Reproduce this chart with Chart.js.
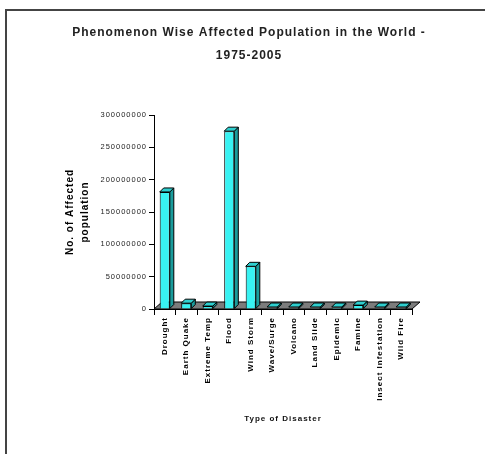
<!DOCTYPE html>
<html>
<head>
<meta charset="utf-8">
<script src="https://cdn.jsdelivr.net/npm/chart.js@4.4.1/dist/chart.umd.min.js"></script>
<style>
    html, body { margin: 0; padding: 0; background: #fff; }
    #wrap { position: relative; width: 485px; height: 454px; }
    #frame { position: absolute; left: 5px; top: 9px; right: 0; bottom: 0; border-left: 2px solid #444; border-top: 2px solid #444; }
    canvas { position: absolute; left: 0; top: 0; }
</style>
</head>
<body>
<div id="wrap">
    <div id="frame"></div>
    <canvas id="chart" width="485" height="454"></canvas>
</div>
<script>
// Data
const categories = ['Drought', 'Earth Quake', 'Extreme Temp', 'Flood', 'Wind Storm', 'Wave/Surge',
    'Volcano', 'Land Slide', 'Epidemic', 'Famine', 'Insect Infestation', 'Wild Fire'];
const affected = [181000000, 9000000, 4500000, 275000000, 66000000, 300000,
    300000, 300000, 2000000, 6000000, 300000, 300000];
const yTicks = [0, 50000000, 100000000, 150000000, 200000000, 250000000, 300000000];

const titleLines = ['Phenomenon Wise Affected Population in the World -', '1975-2005'];
const yTitle = ['No. of Affected', 'population'];
const xTitle = 'Type of Disaster';

const FONT = "'Liberation Sans', Arial, sans-serif";
const SPACING = '1px';
const DEPTH_FLOOR = { dx: 8, dy: -7 };
const DEPTH_BAR = { dx: 4, dy: -4 };

// letter spacing helper (canvas state resets on resize)
const spacing = {
    id: 'spacing',
    beforeUpdate(chart) { chart.ctx.letterSpacing = SPACING; },
    beforeDraw(chart) { chart.ctx.letterSpacing = SPACING; }
};

// chart title, centred over the whole frame rather than the plot
const chartTitle = {
    id: 'chartTitle',
    afterDraw(chart) {
        const { ctx } = chart;
        ctx.save();
        ctx.letterSpacing = SPACING;
        ctx.font = 'bold 12px ' + FONT;
        ctx.fillStyle = '#222';
        ctx.textAlign = 'center';
        ctx.textBaseline = 'middle';
        titleLines.forEach((line, i) => ctx.fillText(line, 249, 33 + i * 23));
        ctx.restore();
    }
};

// grey 3D floor under the bars
const floor = {
    id: 'floor',
    beforeDatasetsDraw(chart) {
        const { ctx, chartArea } = chart;
        const x0 = chartArea.left, x1 = chartArea.right, y = chartArea.bottom;
        ctx.save();
        ctx.beginPath();
        ctx.moveTo(x0, y);
        ctx.lineTo(x1, y);
        ctx.lineTo(x1 + DEPTH_FLOOR.dx, y + DEPTH_FLOOR.dy);
        ctx.lineTo(x0 + DEPTH_FLOOR.dx, y + DEPTH_FLOOR.dy);
        ctx.closePath();
        ctx.fillStyle = '#7c7c7c';
        ctx.fill();
        ctx.strokeStyle = '#000';
        ctx.lineWidth = 1;
        ctx.stroke();
        ctx.restore();
    }
};

// top + side faces for each bar
const bar3d = {
    id: 'bar3d',
    afterDatasetsDraw(chart) {
        const { ctx } = chart;
        const meta = chart.getDatasetMeta(0);
        const { dx, dy } = DEPTH_BAR;
        ctx.save();
        ctx.lineWidth = 1;
        ctx.strokeStyle = '#000';
        meta.data.forEach(bar => {
            const p = bar.getProps(['x', 'y', 'base', 'width'], true);
            const l = p.x - p.width / 2, r = p.x + p.width / 2;
            const t = Math.min(p.y, p.base - 1.5), b = p.base;
            // side
            ctx.beginPath();
            ctx.moveTo(r, t);
            ctx.lineTo(r + dx, t + dy);
            ctx.lineTo(r + dx, b + dy);
            ctx.lineTo(r, b);
            ctx.closePath();
            ctx.fillStyle = '#1a9c9c';
            ctx.fill();
            ctx.stroke();
            // top
            ctx.beginPath();
            ctx.moveTo(l, t);
            ctx.lineTo(l + dx, t + dy);
            ctx.lineTo(r + dx, t + dy);
            ctx.lineTo(r, t);
            ctx.closePath();
            ctx.fillStyle = '#2fcfcf';
            ctx.fill();
            ctx.stroke();
        });
        ctx.restore();
    }
};

const ctx = document.getElementById('chart').getContext('2d');
new Chart(ctx, {
    type: 'bar',
    data: {
        labels: categories,
        datasets: [{
            data: affected,
            backgroundColor: '#38f2f2',
            borderColor: '#000',
            borderWidth: 1,
            barPercentage: 0.47,
            categoryPercentage: 1
        }]
    },
    options: {
        responsive: false,
        animation: false,
        devicePixelRatio: 1,
        layout: { padding: { left: 0, right: 73, top: 115, bottom: 30 } },
        plugins: {
            legend: { display: false },
            tooltip: { enabled: false },
            title: { display: false }
        },
        scales: {
            x: {
                offset: true,
                afterFit: scale => { scale.height = 115; },
                grid: { offset: true, drawOnChartArea: false, drawTicks: true, tickLength: 6, color: '#000' },
                border: { display: true, color: '#000', width: 1 },
                ticks: {
                    minRotation: 90, maxRotation: 90, autoSkip: false, padding: 2,
                    color: '#000',
                    font: { family: FONT, size: 8, weight: 'bold' }
                },
                title: {
                    display: true, text: xTitle, color: '#111',
                    font: { family: FONT, size: 8, weight: 'bold' },
                    padding: { top: 4, bottom: 0 }
                }
            },
            y: {
                min: 0,
                max: 300000000,
                afterBuildTicks: scale => { scale.ticks = yTicks.map(v => ({ value: v })); },
                afterFit: scale => { scale.width = 154; },
                grid: { drawOnChartArea: false, drawTicks: true, tickLength: 5, color: '#000' },
                border: { display: true, color: '#000', width: 1 },
                ticks: {
                    color: '#222', padding: 2,
                    font: { family: FONT, size: 7.5 },
                    callback: v => String(v)
                },
                title: {
                    display: true, text: yTitle, color: '#000',
                    font: { family: FONT, size: 10, weight: 'bold', lineHeight: 1.45 },
                    padding: { top: 63, bottom: 0 }
                }
            }
        }
    },
    plugins: [spacing, floor, bar3d, chartTitle]
});
</script>
</body>
</html>
